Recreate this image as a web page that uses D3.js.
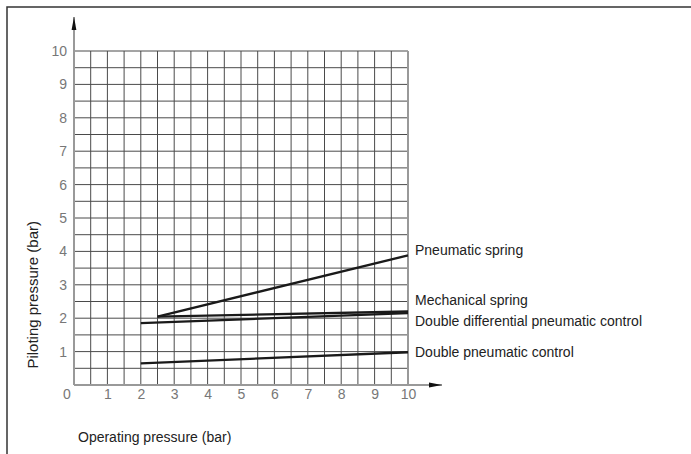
<!DOCTYPE html>
<html>
<head>
<meta charset="utf-8">
<script src="https://cdn.jsdelivr.net/npm/d3@7"></script>
<style>
body { margin: 0; background: #fff; }
svg text { font-family: "Liberation Sans", Arial, sans-serif; }
</style>
</head>
<body>
<div id="chart"></div>
<script>
// values
const seriesNames = ["Pneumatic spring", "Mechanical spring", "Double differential pneumatic control", "Double pneumatic control"];
const xStart = [2.5, 2.5, 2, 2];
const yStart = [2.05, 2.05, 1.85, 0.65];
const xEnd = [10, 10, 10, 10];
const yEnd = [3.88, 2.2, 2.15, 0.98];
const labelAt = [4.04, 2.54, 1.9, 0.99];
const xTicks = [1, 2, 3, 4, 5, 6, 7, 8, 9, 10];
const yTicks = [1, 2, 3, 4, 5, 6, 7, 8, 9, 10];
const xTitle = "Operating pressure (bar)";
const yTitle = "Piloting pressure (bar)";

const width = 691, height = 454;
const x = d3.scaleLinear().domain([0, 10]).range([74, 408]);
const y = d3.scaleLinear().domain([0, 10]).range([385, 51]);

const svg = d3.select("#chart").append("svg")
  .attr("width", width)
  .attr("height", height);

// frame (top and left only)
svg.append("path")
  .attr("d", "M7,454 L7,7 L691,7")
  .attr("fill", "none")
  .attr("stroke", "#333")
  .attr("stroke-width", 1.5);

// grid every half unit
const half = d3.range(0, 10.5, 0.5);
const grid = svg.append("g").attr("stroke", "#4a4a4a").attr("stroke-width", 1);
grid.selectAll(".v").data(half.filter(d => d > 0 && d < 10)).join("line")
  .attr("x1", d => x(d)).attr("x2", d => x(d))
  .attr("y1", y(0)).attr("y2", y(10));
grid.selectAll(".h").data(half.filter(d => d > 0)).join("line")
  .attr("x1", x(0)).attr("x2", x(10))
  .attr("y1", d => y(d)).attr("y2", d => y(d));

// right edge of grid, lighter
svg.append("line")
  .attr("x1", x(10)).attr("x2", x(10)).attr("y1", y(0)).attr("y2", y(10))
  .attr("stroke", "#999").attr("stroke-width", 2);

// axes with arrows
svg.append("defs").append("marker")
  .attr("id", "arrow")
  .attr("viewBox", "0 0 13 6")
  .attr("refX", 13).attr("refY", 3)
  .attr("markerWidth", 13).attr("markerHeight", 6)
  .attr("markerUnits", "userSpaceOnUse")
  .attr("orient", "auto")
  .append("path").attr("d", "M0,0.6 L13,3 L0,5.4 Z").attr("fill", "#111");

svg.append("line")
  .attr("x1", x(0)).attr("x2", x(0)).attr("y1", y(0)).attr("y2", 17)
  .attr("stroke", "#999").attr("stroke-width", 2)
  .attr("marker-end", "url(#arrow)");
svg.append("line")
  .attr("x1", x(0)).attr("x2", 442).attr("y1", y(0)).attr("y2", y(0))
  .attr("stroke", "#999").attr("stroke-width", 2)
  .attr("marker-end", "url(#arrow)");

// tick labels
const yAxis = svg.append("g")
  .attr("transform", "translate(" + (x(0) - 7) + ",0)")
  .call(d3.axisLeft(y).tickValues(yTicks).tickSize(0).tickPadding(0));
yAxis.select(".domain").remove();
yAxis.attr("font-size", null).attr("font-family", null);
yAxis.selectAll("text").style("font-size", "14px").attr("fill", "#777");

const xAxis = svg.append("g")
  .attr("transform", "translate(0," + (y(0) + 4) + ")")
  .call(d3.axisBottom(x).tickValues(xTicks).tickSize(0).tickPadding(0));
xAxis.select(".domain").remove();
xAxis.attr("font-size", null).attr("font-family", null);
xAxis.selectAll("text").style("font-size", "14px").attr("fill", "#777");

svg.append("text")
  .attr("x", x(0) - 7).attr("y", y(0) + 4)
  .attr("dy", "0.71em")
  .attr("text-anchor", "middle")
  .style("font-size", "14px").attr("fill", "#777")
  .text("0");

// series lines
const rows = seriesNames.map((name, i) => ({name, x0: xStart[i], y0: yStart[i], x1: xEnd[i], y1: yEnd[i], ly: labelAt[i]}));

svg.append("g").selectAll("line").data(rows).join("line")
  .attr("x1", d => x(d.x0)).attr("y1", d => y(d.y0))
  .attr("x2", d => x(d.x1)).attr("y2", d => y(d.y1))
  .attr("stroke", "#1a1a1a")
  .attr("stroke-width", 2.3);

svg.append("g").selectAll("text").data(rows).join("text")
  .attr("x", x(10) + 7)
  .attr("y", d => y(d.ly))
  .attr("dy", "0.35em")
  .style("font-size", "14px")
  .attr("fill", "#222")
  .text(d => d.name);

// axis titles
svg.append("text")
  .attr("x", 78).attr("y", 437)
  .attr("dy", "0.35em")
  .style("font-size", "14px").attr("fill", "#222")
  .text(xTitle);

svg.append("text")
  .attr("transform", "translate(33," + y(2.7) + ") rotate(-90)")
  .attr("text-anchor", "middle")
  .attr("dy", "0.35em")
  .style("font-size", "15px").attr("fill", "#222")
  .text(yTitle);
</script>
</body>
</html>
